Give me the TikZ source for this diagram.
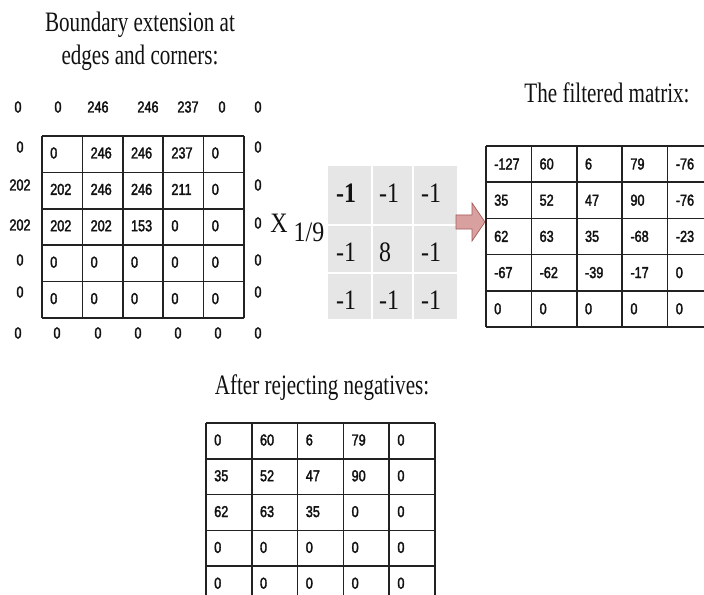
\documentclass[tikz,border=0pt]{standalone}
\usepackage{fontspec}
\setmainfont{Liberation Serif}[FakeStretch=0.75]
\newfontfamily\kernfont{Liberation Serif}[FakeStretch=0.85]
\newfontfamily\cellfont{Liberation Sans}[FakeStretch=0.8,FakeBold=2]
\definecolor{ink}{HTML}{111111}
\definecolor{gridink}{HTML}{222222}
\definecolor{kernelfill}{HTML}{E6E6E6}
\definecolor{arrowfill}{HTML}{D9A0A0}
\definecolor{arrowdraw}{HTML}{A65A5A}
\tikzset{
  every node/.style={text=ink, inner sep=0pt},
  heading/.style={font=\fontsize{24}{28}\selectfont, align=center},
  cellnum/.style={font=\cellfont\fontsize{13.5}{13.5}\selectfont, anchor=west},
  outnum/.style={font=\cellfont\fontsize{13.5}{13.5}\selectfont},
  kernnum/.style={font=\kernfont\fontsize{24}{24}\selectfont, anchor=west},
  gridln/.style={draw=gridink, line width=1.3pt},
  blockarrow/.style={draw=arrowdraw, fill=arrowfill, line width=0.6pt},
}

\begin{document}
\begin{tikzpicture}[x=0.03cm, y=-0.03cm]
  \useasboundingbox (0,0) rectangle (704,595);
  \clip (0,0) rectangle (704,595);
  \fill[white] (0,0) rectangle (704,595);

  % padded input matrix
  \node[heading] (padtitle) at (140,41) {Boundary extension at\\edges and corners:};
  \foreach \c in {0,...,5}
    \draw[gridln] ({42+40.4*\c},136) -- ({42+40.4*\c},318);
  \foreach \r in {0,...,5}
    \draw[gridln] (42,{136+36.4*\r}) -- (244,{136+36.4*\r});
  \foreach \row [count=\r from 0] in {{0,246,246,237,0},{202,246,246,211,0},{202,202,153,0,0},{0,0,0,0,0},{0,0,0,0,0}} {
    \foreach \v [count=\c from 0] in \row
      \node[cellnum] (p\r\c) at ({50+40.4*\c},{153+36.4*\r}) {\v};
  }
  % extended border values
  \foreach \x/\v [count=\i] in {18/0,58/0,98/246,148/246,188/237,222/0,258/0}
    \node[outnum] (ptop\i) at (\x,107) {\v};
  \foreach \x [count=\i] in {18,57,98,138,178,218,258}
    \node[outnum] (pbot\i) at (\x,333) {0};
  \foreach \y/\v [count=\i] in {147/0,185/202,225/202,260/0,292/0}
    \node[outnum] (plft\i) at (20,\y) {\v};
  \foreach \y [count=\i] in {147,185,223,260,292}
    \node[outnum] (prgt\i) at (258,\y) {0};

  % kernel
  \node[font=\kernfont\fontsize{24}{24}\selectfont] (times) at (279,223) {X};
  \node[font=\kernfont\fontsize{24}{24}\selectfont] (scale) at (309,232) {1/9};
  \fill[kernelfill] (328,166) rectangle (457,319);
  \foreach \x in {372,413}
    \draw[white, line width=1.5pt] (\x,166) -- (\x,319);
  \foreach \y in {225,273}
    \draw[white, line width=1.5pt] (328,\y) -- (457,\y);
  \foreach \row [count=\r] in {{\textbf{-1},-1,-1},{-1,8,-1},{-1,-1,-1}} {
    \pgfmathsetmacro{\ky}{{193,252,300}[\r-1]}
    \foreach \v [count=\c] in \row {
      \pgfmathsetmacro{\kx}{{336,379,421}[\c-1]}
      \node[kernnum] (k\r\c) at (\kx,\ky) {\v};
    }
  }

  \draw[blockarrow] (456,215) -- (472,215) -- (472,203) -- (485,222)
    -- (472,241) -- (472,229) -- (456,229) -- cycle;

  % filtered matrix
  \node[heading] (filttitle) at (607,93) {The filtered matrix:};
  \foreach \c in {0,...,5}
    \draw[gridln] ({486+45.4*\c},146) -- ({486+45.4*\c},327);
  \foreach \r in {0,...,5}
    \draw[gridln] (486,{146+36.2*\r}) -- (713,{146+36.2*\r});
  \foreach \row [count=\r from 0] in {{-127,60,6,79,-76},{35,52,47,90,-76},{62,63,35,-68,-23},{-67,-62,-39,-17,0},{0,0,0,0,0}} {
    \foreach \v [count=\c from 0] in \row
      \node[cellnum] (f\r\c) at ({494+45.4*\c},{164+36.2*\r}) {\v};
  }

  % after rejecting negatives
  \node[heading] (posttitle) at (322,388) {After rejecting negatives:};
  \foreach \c in {0,...,5}
    \draw[gridln] ({206+45.8*\c},423) -- ({206+45.8*\c},602);
  \foreach \r in {0,...,5}
    \draw[gridln] (206,{423+35.8*\r}) -- (435,{423+35.8*\r});
  \foreach \row [count=\r from 0] in {{0,60,6,79,0},{35,52,47,90,0},{62,63,35,0,0},{0,0,0,0,0},{0,0,0,0,0}} {
    \foreach \v [count=\c from 0] in \row
      \node[cellnum] (n\r\c) at ({214+45.8*\c},{440+35.8*\r}) {\v};
  }
\end{tikzpicture}
\end{document}
